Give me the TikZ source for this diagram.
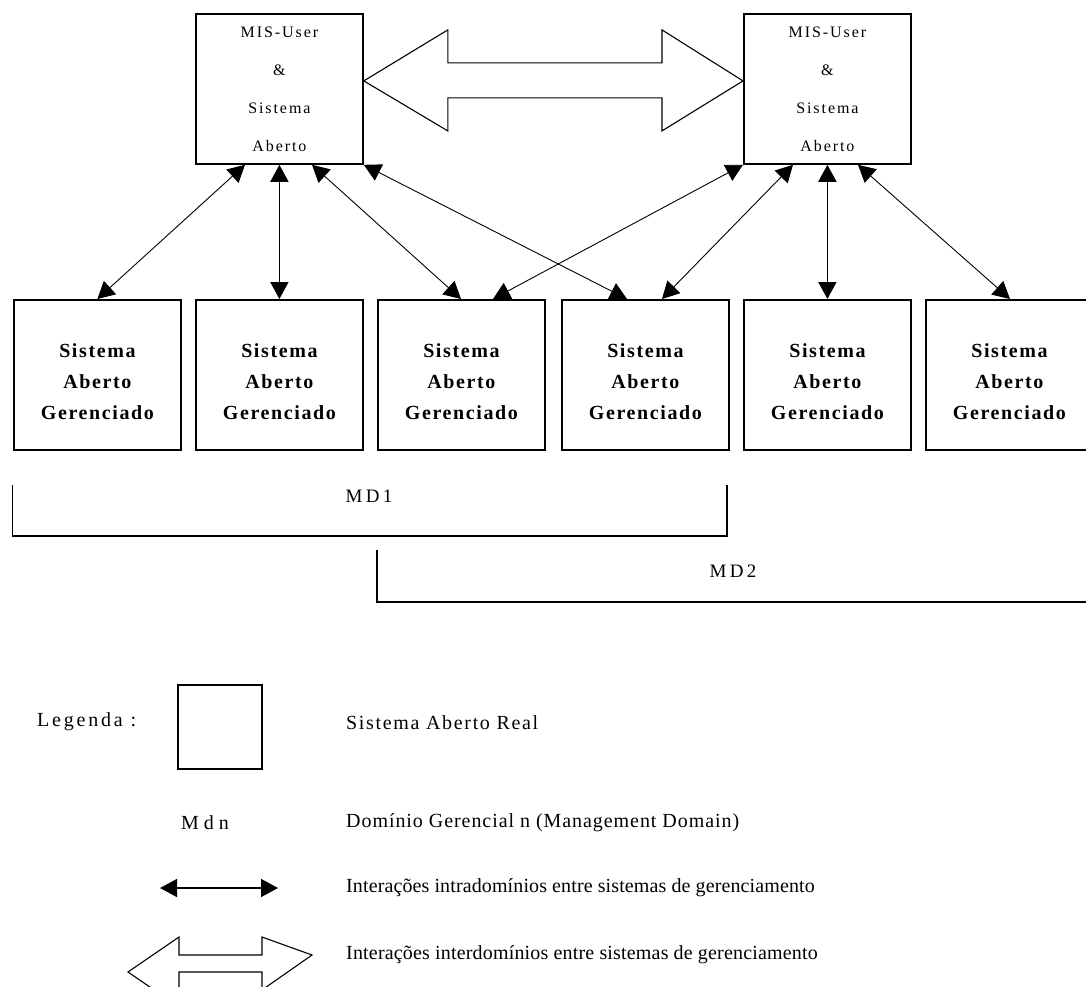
\documentclass[tikz,border=0pt]{standalone}
\usepackage{fontspec}
\setmainfont{Liberation Serif}
\newfontfamily\boxfont[LetterSpace=8,BoldFont={Liberation Serif Bold}]{Liberation Serif}
\newfontfamily\topfont[LetterSpace=12]{Liberation Serif}
\newfontfamily\mdfont[LetterSpace=18]{Liberation Serif}
\newfontfamily\legA[LetterSpace=8.3]{Liberation Serif}
\newfontfamily\legB[LetterSpace=4.7]{Liberation Serif}
\newfontfamily\legC[LetterSpace=0.6]{Liberation Serif}
\newfontfamily\legD[LetterSpace=0.9]{Liberation Serif}
\newfontfamily\legwide[LetterSpace=14]{Liberation Serif}
\newfontfamily\mdnfont[LetterSpace=25]{Liberation Serif}
\usetikzlibrary{arrows.meta,calc}
\begin{document}
\begin{tikzpicture}[x=1pt,y=-1pt,
  sysbox/.style={draw,line width=1.8pt,minimum width=167pt,minimum height=150pt,inner sep=0pt,anchor=north west},
  toptext/.style={align=center,inner sep=0pt,font=\topfont\fontsize{16}{38}\selectfont},
  bottext/.style={align=center,inner sep=0pt,font=\boxfont\bfseries\fontsize{20}{31}\selectfont},
  legtext/.style={anchor=west,inner sep=0pt},
  mdtext/.style={inner sep=0pt,font=\mdfont\fontsize{19}{22}\selectfont},
  link/.style={{Triangle[length=17pt,width=18pt]}-{Triangle[length=17pt,width=18pt]},line width=0.9pt},
  vlink/.style={link,line width=1.8pt},
  fat/.style={draw,line width=1.1pt,line join=miter},
  bracket/.style={draw,line width=1.4pt}
]
\path[use as bounding box,clip] (0,0) rectangle (1086,987);

% top systems
\node[sysbox] (t1) at (195,13) {};
\node[sysbox] (t2) at (743,13) {};
\node[toptext] (t1txt) at (t1.center) {MIS-User\\\&\\Sistema\\Aberto};
\node[toptext] (t2txt) at (t2.center) {MIS-User\\\&\\Sistema\\Aberto};

% managed systems
\foreach \i/\x in {1/13,2/195,3/377,4/561,5/743,6/925}{
  \node[sysbox] (b\i) at (\x,299) {};
  \node[bottext] (b\i txt) at ([yshift=-7pt]b\i.center) {Sistema\\Aberto\\Gerenciado};
}

% hollow double arrow between MIS-Users
\coordinate (dl) at ([yshift=8pt]t1.east);
\coordinate (dr) at ([yshift=8pt]t2.west);
\draw[fat] (dl) -- ++(84,-51) -- ++(0,33) -- ($(dr)+(-81,-18)$) -- ++(0,-33) -- (dr)
  -- ++(-81,50) -- ++(0,-33) -- ($(dl)+(84,17)$) -- ++(0,33) -- cycle;

% connectors
\coordinate (t1a) at ([xshift=50pt]t1.south west);
\coordinate (t1c) at ([xshift=117pt]t1.south west);
\coordinate (t2b) at ([xshift=50pt]t2.south west);
\coordinate (t2d) at ([xshift=115pt]t2.south west);
\coordinate (b3a) at ([xshift=84pt]b3.north west);
\coordinate (b3b) at ([xshift=116pt]b3.north west);
\coordinate (b4a) at ([xshift=66pt]b4.north west);
\coordinate (b4b) at ([xshift=101pt]b4.north west);
\coordinate (b6a) at ([xshift=85pt]b6.north west);

\draw[link] (b1.north) -- (t1a);
\draw[vlink] (b2.north) -- (t1.south);
\draw[link] (b3a) -- (t1c);
\draw[link] (b4a) -- (t1.south east);
\draw[link] (b3b) -- (t2.south west);
\draw[link] (b4b) -- (t2b);
\draw[vlink] (b5.north) -- (t2.south);
\draw[link] (b6a) -- (t2d);

% management domains
\coordinate (m1a) at (12.5,485);
\coordinate (m1b) at (727,485);
\draw[bracket] (m1a) |- (m1b |- 0,536) -- (m1b);
\node[mdtext] (md1) at (369,496) {MD1};
\coordinate (m2a) at (377,550);
\coordinate (m2b) at (1092,602);
\draw[bracket] (m2a) |- (m2b);
\node[mdtext] (md2) at (733,571) {MD2};

% legend
\node[legtext,font=\legwide\fontsize{20}{24}\selectfont] (leg) at (37,722) {Legenda :};
\node[draw,line width=1.8pt,minimum width=84pt,minimum height=84pt,inner sep=0pt] (lbox) at (220,727) {};
\node[legtext,font=\legA\fontsize{20}{24}\selectfont] (l1) at (346,723) {Sistema Aberto Real};
\node[inner sep=0pt,font=\mdnfont\fontsize{20}{22}\selectfont] (mdn) at (205,823) {Mdn};
\node[legtext,font=\legB\fontsize{20}{24}\selectfont] (l2) at (346,823) {Domínio Gerencial n (Management Domain)};
\coordinate (sa) at (160,888);
\coordinate (sb) at (278,888);
\draw[link,line width=1.6pt] (sa) -- (sb);
\node[legtext,font=\legC\fontsize{20}{24}\selectfont] (l3) at (346,888) {Interações intradomínios entre sistemas de gerenciamento};
\coordinate (la) at (128,972);
\coordinate (ra) at (312,955);
\draw[fat] (la) -- ++(51,-35) -- ++(0,18) -- ++(83,0) -- ++(0,-18) -- (ra)
  -- ++(-50,35) -- ++(0,-18) -- ++(-83,0) -- ++(0,35) -- cycle;
\node[legtext,font=\legD\fontsize{20}{24}\selectfont] (l4) at (346,955) {Interações interdomínios entre sistemas de gerenciamento};
\end{tikzpicture}
\end{document}
